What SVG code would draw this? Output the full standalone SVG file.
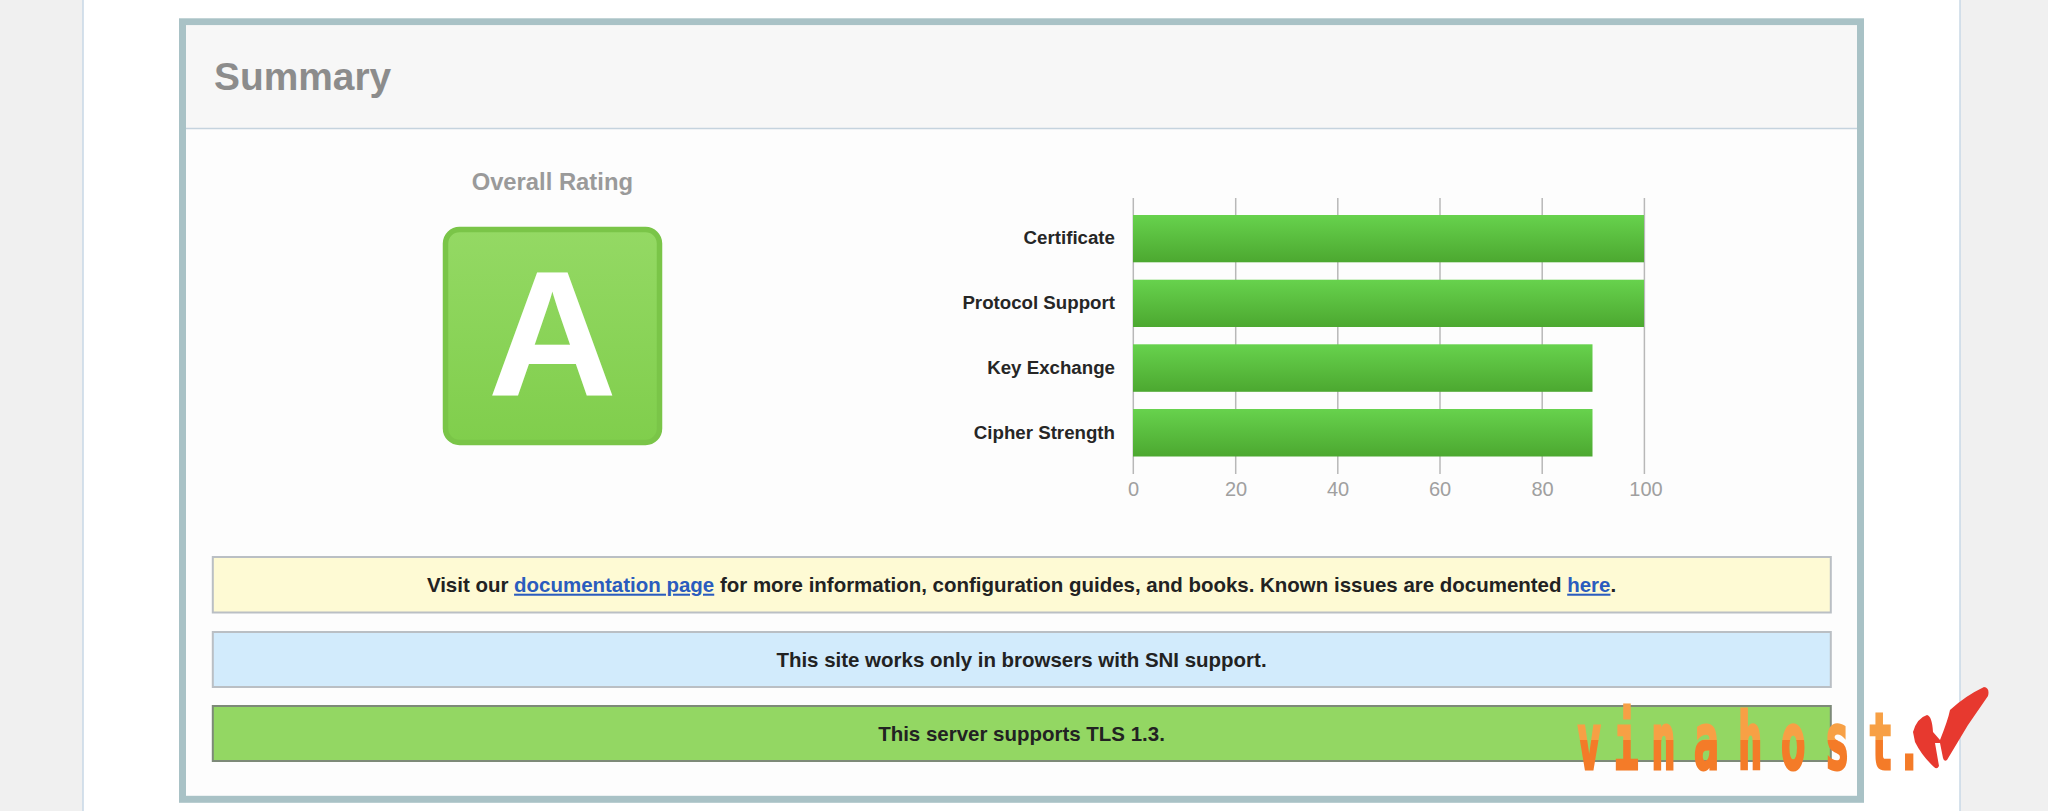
<svg xmlns="http://www.w3.org/2000/svg" width="2048" height="811" viewBox="0 0 2048 811">
<style>
text{font-family:"Liberation Sans",Arial,sans-serif;font-weight:bold}
.lab{font-size:18.7px;fill:#262626;text-anchor:end}
.ax{font-size:20px;fill:#a0a0a0;font-weight:normal;text-anchor:middle}
.grid{stroke:#b8b8b8;stroke-width:1.5}
.bar{fill:url(#barG)}
.msg{font-size:20.48px;fill:#222;text-anchor:middle}
.link{fill:#2a5cbe;text-decoration:underline}
.box{stroke:#babfc4;stroke-width:2}
.vh{font-family:"DejaVu Sans Mono",monospace;font-size:78px;fill:url(#vhG);stroke:url(#vhG);stroke-width:3}
</style>
<defs>
<linearGradient id="barG" x1="0" y1="0" x2="0" y2="1"><stop offset="0" stop-color="#67d24d"/><stop offset="1" stop-color="#4ca830"/></linearGradient>
<linearGradient id="badgeG" x1="0" y1="0" x2="0" y2="1"><stop offset="0" stop-color="#94d964"/><stop offset="1" stop-color="#80ce4c"/></linearGradient>
<linearGradient id="vhG" gradientUnits="userSpaceOnUse" x1="0" y1="700" x2="0" y2="780"><stop offset="0.5" stop-color="#f7a045"/><stop offset="0.5" stop-color="#f47b28"/></linearGradient>
</defs>
<rect width="2048" height="811" fill="#f0f0f0"/>
<rect x="83" y="-2" width="1877" height="815" fill="#fff" stroke="#c8d8e6" stroke-width="1.5"/>
<g id="panel">
<rect x="182.500" y="21.800" width="1678" height="777.500" fill="#fdfdfd" stroke="#a9c2c6" stroke-width="7"/>
<rect x="186" y="25.300" width="1671" height="103" fill="#f7f7f7"/>
<line x1="186" y1="128.500" x2="1857" y2="128.500" stroke="#c5d3de" stroke-width="1.500"/>
<text x="214" y="90" font-size="38.900" fill="#8c8c8c">Summary</text>
</g>
<g id="rating">
<text x="552.300" y="190" font-size="23.800" fill="#9a9a9a" text-anchor="middle">Overall Rating</text>
<rect x="445.500" y="229.500" width="214" height="213" rx="14" fill="url(#badgeG)" stroke="#7ac548" stroke-width="5.500"/>
<text x="552.500" y="395" font-size="179" fill="#fff" text-anchor="middle">A</text>
</g>
<g id="chart">
<g class="grid">
<line x1="1133.300" y1="198" x2="1133.300" y2="474"/>
<line x1="1235.700" y1="198" x2="1235.700" y2="474"/>
<line x1="1337.800" y1="198" x2="1337.800" y2="474"/>
<line x1="1440" y1="198" x2="1440" y2="474"/>
<line x1="1542.200" y1="198" x2="1542.200" y2="474"/>
<line x1="1644.400" y1="198" x2="1644.400" y2="474"/>
</g>
<g id="bar-certificate"><rect class="bar" x="1133" y="215" width="511" height="47.300"/><text class="lab" x="1115" y="244">Certificate</text></g>
<g id="bar-protocol"><rect class="bar" x="1133" y="279.700" width="511" height="47.300"/><text class="lab" x="1115" y="309">Protocol Support</text></g>
<g id="bar-key"><rect class="bar" x="1133" y="344.300" width="459.500" height="47.500"/><text class="lab" x="1115" y="373.700">Key Exchange</text></g>
<g id="bar-cipher"><rect class="bar" x="1133" y="409" width="459.500" height="47.500"/><text class="lab" x="1115" y="438.700">Cipher Strength</text></g>
<text class="ax" x="1133.500" y="495.700">0</text>
<text class="ax" x="1236" y="495.700">20</text>
<text class="ax" x="1338" y="495.700">40</text>
<text class="ax" x="1440" y="495.700">60</text>
<text class="ax" x="1542.500" y="495.700">80</text>
<text class="ax" x="1646" y="495.700">100</text>
</g>
<g id="msg-docs">
<rect class="box" x="212.800" y="557" width="1618" height="55.500" fill="#fefad4"/>
<text class="msg" x="1021.500" y="591.700">Visit our <tspan class="link">documentation page</tspan> for more information, configuration guides, and books. Known issues are documented <tspan class="link">here</tspan>.</text>
</g>
<g id="msg-sni">
<rect class="box" x="212.800" y="632" width="1618" height="55" fill="#d2ebfc"/>
<text class="msg" x="1021.500" y="667">This site works only in browsers with SNI support.</text>
</g>
<g id="msg-tls">
<rect x="212.800" y="706" width="1618" height="55" fill="#93d763" stroke="#7d8a78" stroke-width="2"/>
<text class="msg" x="1021.500" y="741">This server supports TLS 1.3.</text>
</g>
<g id="watermark">
<g transform="scale(0.53,1)"><text class="vh" y="769.500" x="2975 3045 3115 3196 3279 3360 3443 3525 3579">vinahost.</text></g>
<path d="M1913 732 Q1917 718 1927 715 Q1932 716 1933 732 L1940 740 Q1948 720 1950 710 Q1965 696 1984 687 Q1990 688 1988 696 L1968 725 L1947 760 Q1944 762 1943 758 L1940 743 L1935 743 L1939 766 Q1937 770 1934 767 Q1922 756 1915 742 Z" fill="#e7392f"/>
</g>
</svg>
